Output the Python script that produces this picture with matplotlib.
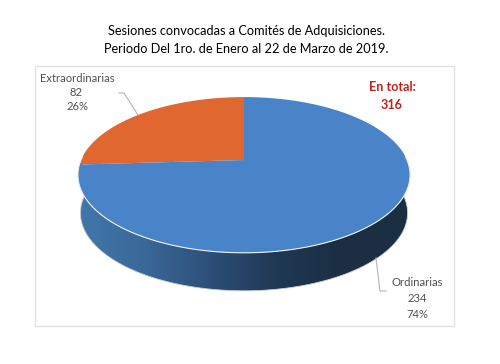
import numpy as np
import matplotlib
matplotlib.use("Agg")
import matplotlib.pyplot as plt
from matplotlib.patches import Polygon, Rectangle
from matplotlib.colors import LinearSegmentedColormap

title_lines = ["Sesiones convocadas a Comités de Adquisiciones.",
               "Periodo Del 1ro. de Enero al 22 de Marzo de 2019."]
categories = ["Extraordinarias", "Ordinarias"]
values = [82, 234]
percents = ["26%", "74%"]
total_label = "En total:"
total_value = "316"
colors = ["#E06730", "#4A84C8"]

plt.rcParams['font.family'] = ['Lato', 'DejaVu Sans']
fig = plt.figure(figsize=(5, 3.64), dpi=100)
ax = fig.add_axes([0, 0, 1, 1])
ax.set_xlim(0, 500)
ax.set_ylim(364, 0)
ax.axis('off')

ax.add_patch(Rectangle((34.5, 65.5), 419, 260, fc='white', ec='#E2E2E2', lw=1.0))

CX, CY, A, B, K = 244.0, 160.0, 163.0, 75.0, 0.192
DEPTH = 38.0

def proj(theta, shrink=1.0, dy=0.0):
    """theta is measured from 12 o'clock, counter-clockwise positive."""
    u, v = -np.sin(theta), np.cos(theta)
    d = 1 + K * v
    return CX + shrink * A * u / d, CY + dy - B * v / d

fracs = np.array(values) / sum(values)
split = 2 * np.pi * fracs[0]

# side wall with a horizontal gradient
t = np.linspace(0, 2 * np.pi, 721)
xt, yt = proj(t)
xb, yb = proj(t, 0.985, DEPTH)
mask_lo = (t >= np.pi / 2 - 0.05) & (t <= 3 * np.pi / 2 + 0.05)
top_x, top_y = xt[mask_lo], yt[mask_lo]
bot_x, bot_y = xb[mask_lo], yb[mask_lo]
wall = np.r_[np.c_[top_x, top_y], np.c_[bot_x, bot_y][::-1]]
wall_patch = Polygon(wall, closed=True, fc='none', ec='none')
ax.add_patch(wall_patch)
cmap = LinearSegmentedColormap.from_list('wall', ['#4277AC', '#3A6898', '#2C4F78', '#1F3853', '#1B2E42', '#1C3044'])
im = ax.imshow(np.linspace(0, 1, 256)[None, :], cmap=cmap, extent=(78, 410, 300, 150), aspect='auto', zorder=2)
im.set_clip_path(wall_patch)
ax.set_xlim(0, 500)
ax.set_ylim(364, 0)
ax.plot(bot_x, bot_y, color='#D0D0D0', lw=0.6, zorder=2.1)

# top face slices
t0 = np.linspace(0, split, 200)
t1 = np.linspace(split, 2 * np.pi, 500)
for tt, c in ((t0, colors[0]), (t1, colors[1])):
    x, y = proj(tt)
    ax.add_patch(Polygon(np.c_[np.r_[CX, x], np.r_[CY, y]], closed=True, fc=c, ec='none', zorder=3))
# pale hairline on the front rim only
ax.plot(top_x, top_y, color='#EEF2F7', lw=0.8, zorder=3.2)

# leader lines
ax.plot([119, 124, 138], [93, 93, 115], color='#B5B5B5', lw=0.8, zorder=4)
ax.plot([376, 380, 386], [258, 291, 291], color='#B5B5B5', lw=0.8, zorder=4)

# text
txt = '#505050'
for i, y in enumerate((31, 49)):
    ax.text(246.5, y, title_lines[i], ha='center', va='center', fontsize=9.2, color='black', zorder=5)
ax.text(77, 79, categories[0], ha='center', va='center', fontsize=8.1, color=txt)
ax.text(76, 93, str(values[0]), ha='center', va='center', fontsize=8.1, color=txt)
ax.text(77, 107, percents[0], ha='center', va='center', fontsize=8.1, color=txt)
ax.text(417, 282, categories[1], ha='center', va='center', fontsize=8.1, color=txt)
ax.text(417, 298, str(values[1]), ha='center', va='center', fontsize=8.1, color=txt)
ax.text(417, 314, percents[1], ha='center', va='center', fontsize=8.1, color=txt)
ax.text(392, 87, total_label, ha='center', va='center', fontsize=9.1, fontweight='bold', color='#C0231F')
ax.text(392, 105, total_value, ha='center', va='center', fontsize=9.1, fontweight='bold', color='#C0231F')

fig.savefig('out.png', dpi=100)
